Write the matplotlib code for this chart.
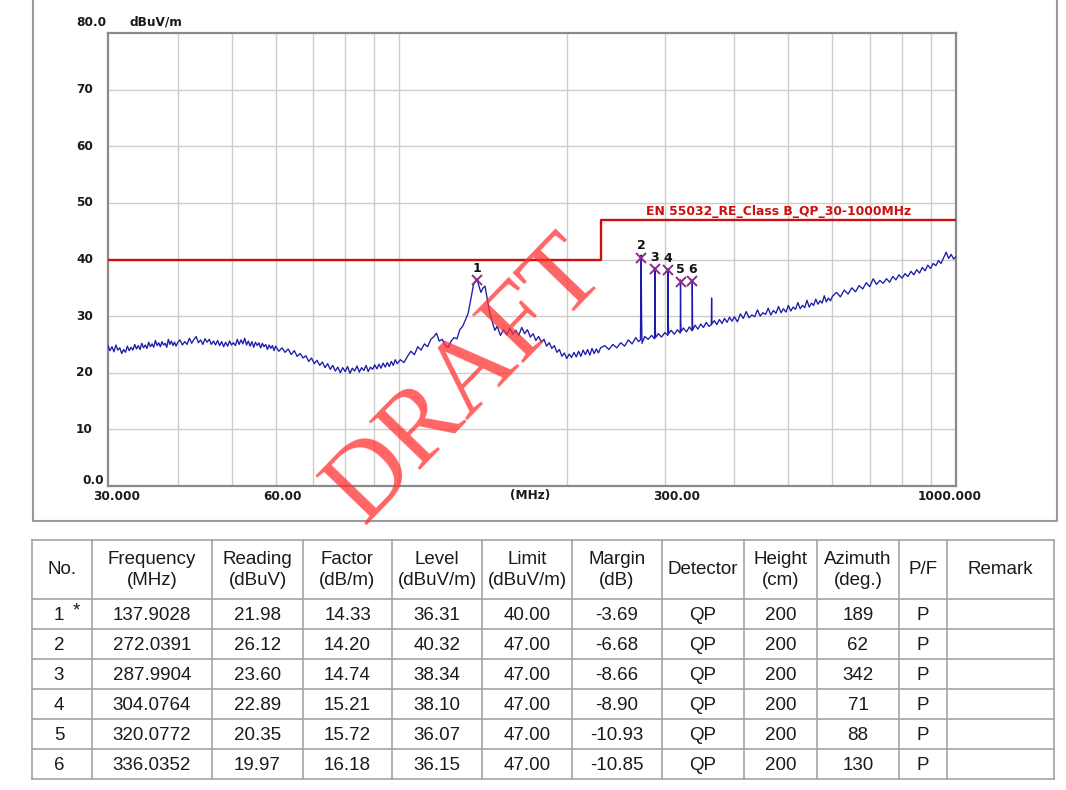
import matplotlib
matplotlib.use("Agg")
import matplotlib.pyplot as plt
from matplotlib.ticker import NullLocator

# ---------------- data ----------------
seg_a_freq = [30.0, 30.25, 30.5, 30.75, 31.0, 31.25, 31.5, 31.75, 32.0, 32.25,
              32.5, 32.75, 33.0, 33.25, 33.5, 33.75, 34.0, 34.25, 34.5, 34.75,
              35.0, 35.25, 35.5, 35.75, 36.0, 36.25, 36.5, 36.75, 37.0, 37.25,
              37.5, 37.75, 38.0, 38.25, 38.5, 38.75, 39.0, 39.25, 39.5, 39.75, 40.0]
seg_a_level = [24.8, 23.9, 24.6, 23.7, 24.9, 24.0, 24.4, 23.4, 24.1, 23.6,
               24.7, 23.9, 24.5, 24.0, 25.0, 24.2, 24.8, 24.1, 25.2, 24.4,
               24.9, 24.3, 25.4, 24.6, 25.1, 24.5, 25.7, 24.8, 25.3, 24.6,
               25.5, 24.9, 25.2, 24.5, 25.9, 25.0, 25.6, 24.8, 25.4, 24.7, 25.3]
seg_b_freq = [40.4, 40.8, 41.2, 41.6, 42.0, 42.4, 42.8, 43.2, 43.6, 44.0,
              44.4, 44.8, 45.2, 45.6, 46.0, 46.4, 46.8, 47.2, 47.6, 48.0,
              48.4, 48.8, 49.2, 49.6, 50.0, 50.4, 50.8, 51.2, 51.6, 52.0,
              52.4, 52.8, 53.2, 53.6, 54.0, 54.4, 54.8, 55.2, 55.6, 56.0,
              56.4, 56.8, 57.2, 57.6, 58.0, 58.4, 58.8, 59.2, 59.6]
seg_b_level = [25.8, 24.9, 25.5, 25.0, 26.1, 25.2, 25.9, 26.4, 25.3, 25.8,
               25.0, 26.0, 25.4, 25.9, 25.0, 25.6, 24.9, 25.7, 24.8, 25.5,
               24.6, 25.4, 24.7, 25.6, 24.9, 25.3, 24.8, 25.9, 25.0, 25.8,
               25.1, 26.1, 24.9, 25.6, 24.7, 25.5, 24.5, 25.4, 24.8, 25.3,
               24.4, 25.2, 24.6, 25.0, 24.1, 24.9, 24.3, 24.8, 23.9]
seg_c_freq = [60.0, 60.8, 61.6, 62.4, 63.2, 64.0, 64.8, 65.6, 66.4, 67.2,
              68.0, 68.8, 69.6, 70.4, 71.2, 72.0, 72.8, 73.6, 74.4, 75.2,
              76.0, 76.8, 77.6, 78.4, 79.2, 80.0, 80.8, 81.6, 82.4, 83.2,
              84.0, 84.8, 85.6, 86.4, 87.2, 88.0, 88.8, 89.6, 90.4, 91.2,
              92.0, 92.8, 93.6, 94.4, 95.2, 96.0, 96.8, 97.6, 98.4, 99.2]
seg_c_level = [24.7, 23.8, 24.4, 23.6, 24.2, 23.2, 23.9, 22.9, 23.4, 22.6,
               23.0, 22.0, 22.6, 21.6, 22.2, 21.3, 21.9, 20.9, 21.6, 20.6,
               21.3, 20.3, 21.0, 20.0, 20.9, 20.2, 21.1, 19.9, 20.8, 20.3,
               21.2, 20.1, 20.9, 20.4, 21.3, 20.2, 21.0, 20.6, 21.4, 20.7,
               21.5, 20.8, 21.7, 21.0, 21.8, 21.1, 22.0, 21.3, 22.3, 21.6]
seg_d_freq = [100.5, 102.0, 103.5, 105.0, 106.5, 108.0, 109.5, 111.0, 112.5, 114.0, 115.5, 116.7, 118.0,
              119.5, 121.0, 122.5, 124.0, 125.5, 127.0, 128.5, 130.0, 131.5, 133.0, 134.5, 136.0, 137.9,
              139.0, 140.2, 141.5, 142.6, 144.0, 145.5, 147.0, 148.5, 150.0]
seg_d_level = [22.3, 21.8, 22.9, 23.8, 23.2, 24.6, 24.0, 25.1, 24.6, 25.9, 26.4, 27.0, 25.6,
               25.9, 24.8, 24.5, 25.6, 26.2, 26.0, 27.6, 28.2, 29.3, 30.5, 33.0, 35.6, 36.6,
               35.4, 34.2, 35.0, 35.3, 33.0, 30.5, 29.0, 27.5, 28.2]
seg_e_freq = [152, 154, 156, 158, 160, 162, 164, 166, 168, 170,
              172, 174, 176, 178, 180, 182, 184, 186, 188, 190,
              192, 194, 196, 198, 200, 202, 204, 206, 208, 210,
              212, 214, 216, 218, 220, 222, 224, 226, 228, 230]
seg_e_level = [26.6, 27.6, 26.7, 27.9, 26.8, 27.5, 26.6, 28.0, 26.9, 27.6,
               26.3, 26.9, 25.7, 26.4, 25.4, 25.9, 24.7, 25.3, 24.3, 24.8,
               23.6, 24.1, 22.9, 23.5, 22.5, 23.3, 22.7, 23.6, 22.8, 23.8,
               22.9, 24.0, 23.2, 24.1, 23.1, 24.3, 23.4, 24.2, 23.5, 24.4]
seg_f_freq = [234, 238, 242, 246, 250, 254, 258, 262, 266, 269,
              271.2, 271.6, 272.04, 272.5, 273, 276, 280, 284,
              287.5, 287.8, 288.0, 288.3, 288.7, 292, 296, 300,
              303.7, 303.9, 304.08, 304.4, 304.8, 308, 312, 316,
              319.7, 319.9, 320.08, 320.4, 320.8, 324, 328, 332,
              335.7, 335.9, 336.04, 336.4, 336.8, 340, 344, 348, 352, 356, 360,
              363.6, 364, 364.4, 368, 372, 376, 380, 384, 388, 392, 396, 400]
seg_f_level = [24.8, 24.1, 25.0, 24.4, 25.3, 24.7, 25.8, 25.1, 26.2, 25.5,
               25.8, 33.0, 40.8, 30.0, 25.2, 26.4, 25.9, 26.6,
               26.0, 31.5, 38.6, 29.5, 26.2, 26.9, 26.3, 27.1,
               26.6, 32.5, 38.4, 28.5, 26.9, 27.5, 26.8, 27.6,
               27.0, 30.0, 36.4, 29.5, 27.3, 27.9, 27.2, 28.1,
               27.4, 30.5, 36.4, 29.0, 27.6, 28.4, 27.7, 28.6, 28.0, 28.9, 28.2,
               28.5, 33.2, 28.6, 29.2, 28.5, 29.4, 28.7, 29.6, 28.9, 29.8, 29.1, 29.9]
seg_g_freq = [405, 410, 415, 420, 425, 430, 435, 440, 445, 450,
              455, 460, 465, 470, 475, 480, 485, 490, 495, 500,
              505, 510, 515, 520, 525, 530, 535, 540, 545, 550,
              555, 560, 565, 570, 575, 580, 585, 590, 595, 600]
seg_g_level = [29.0, 30.4, 29.6, 30.8, 29.7, 30.2, 29.9, 31.1, 30.0, 30.6,
               30.3, 31.4, 30.2, 31.0, 30.5, 31.7, 30.6, 31.3, 30.7, 31.9,
               30.9, 31.6, 31.2, 32.4, 31.3, 31.9, 31.5, 32.8, 31.6, 32.3,
               31.9, 33.0, 32.1, 32.7, 32.3, 33.6, 32.5, 33.2, 32.7, 33.5]
seg_h_freq = [610, 620, 630, 640, 650, 660, 670, 680, 690, 700,
              710, 720, 730, 740, 750, 760, 770, 780, 790, 800,
              810, 820, 830, 840, 850, 860, 870, 880, 890, 900,
              910, 920, 930, 940, 950, 960, 970, 980, 990, 1000]
seg_h_level = [34.2, 33.4, 34.6, 33.9, 35.0, 34.3, 35.4, 34.8, 35.9, 35.2,
               36.6, 35.6, 36.3, 35.8, 36.6, 36.0, 37.0, 36.4, 37.3, 36.7,
               37.5, 37.0, 37.9, 37.3, 38.2, 37.6, 38.6, 38.0, 39.0, 38.4,
               39.3, 38.9, 39.8, 39.3, 40.3, 41.3, 40.2, 40.9, 40.1, 40.5]

trace_freq = (seg_a_freq + seg_b_freq + seg_c_freq + seg_d_freq + seg_e_freq
              + seg_f_freq + seg_g_freq + seg_h_freq)
trace_level = (seg_a_level + seg_b_level + seg_c_level + seg_d_level + seg_e_level
               + seg_f_level + seg_g_level + seg_h_level)

limit_freq = [30, 230, 230, 1000]
limit_level = [40, 40, 47, 47]
limit_name = "EN 55032_RE_Class B_QP_30-1000MHz"

y_tick_values = [80, 70, 60, 50, 40, 30, 20, 10, 0]
y_tick_labels = ["80.0", "70", "60", "50", "40", "30", "20", "10", "0.0"]
x_tick_labels = ["30.000", "60.00", "(MHz)", "300.00", "1000.000"]

nos = ["1", "2", "3", "4", "5", "6"]
freqs = ["137.9028", "272.0391", "287.9904", "304.0764", "320.0772", "336.0352"]
readings = ["21.98", "26.12", "23.60", "22.89", "20.35", "19.97"]
factors = ["14.33", "14.20", "14.74", "15.21", "15.72", "16.18"]
levels = ["36.31", "40.32", "38.34", "38.10", "36.07", "36.15"]
limits = ["40.00", "47.00", "47.00", "47.00", "47.00", "47.00"]
margins = ["-3.69", "-6.68", "-8.66", "-8.90", "-10.93", "-10.85"]
detectors = ["QP"] * 6
heights = ["200"] * 6
azimuths = ["189", "62", "342", "71", "88", "130"]
pfs = ["P"] * 6
remarks = [""] * 6
headers = ["No.", "Frequency\n(MHz)", "Reading\n(dBuV)", "Factor\n(dB/m)", "Level\n(dBuV/m)",
           "Limit\n(dBuV/m)", "Margin\n(dB)", "Detector", "Height\n(cm)", "Azimuth\n(deg.)", "P/F", "Remark"]

# ---------------- figure ----------------
W, H = 1066, 790
fig = plt.figure(figsize=(W / 100, H / 100), dpi=100)
fig.patch.set_facecolor("white")

ov = fig.add_axes([0, 0, 1, 1])
ov.set_xlim(0, W)
ov.set_ylim(H, 0)
ov.axis("off")

ax = fig.add_axes([108 / W, (H - 486) / H, 848 / W, 453 / H])
ax.set_facecolor("none")
ax.set_xscale("log")
ax.set_xlim(30, 1000)
ax.set_ylim(0, 80)
ax.xaxis.set_major_locator(NullLocator())
ax.xaxis.set_minor_locator(NullLocator())
ax.yaxis.set_major_locator(NullLocator())
for s in ax.spines.values():
    s.set_color("#8a8a8a")
    s.set_linewidth(1.6)

grid_c = "#cdcdcd"
for gx in [40, 50, 60, 70, 80, 90, 100, 200, 300, 400, 500, 600, 700, 800, 900]:
    ax.axvline(gx, color=grid_c, lw=1.0, zorder=1)
for gy in [10, 20, 30, 40, 50, 60, 70]:
    ax.axhline(gy, color=grid_c, lw=1.0, zorder=1)

ax.plot(trace_freq, trace_level, color="#1c1ca8", lw=0.95, zorder=3)
ax.plot(limit_freq, limit_level, color="#cc1010", lw=1.7, zorder=4)

mk_f = [float(v) for v in freqs]
mk_l = [float(v) for v in levels]
ax.plot(mk_f, mk_l, linestyle="none", marker="x", color="#8a2a8a", ms=7, mew=1.4, zorder=5)
for n, f, l in zip(nos, mk_f, mk_l):
    ax.annotate(n, (f, l), xytext=(0, 8.5), textcoords="offset points", ha="center", va="center",
                fontsize=9, fontweight="bold", color="#111111", family="DejaVu Sans", zorder=6)

lab_kw = dict(fontsize=8.7, fontweight="bold", color="#1a1a1a", family="DejaVu Sans")
ax.text(646, 211, limit_name, ha="left", va="center", fontsize=8.9, fontweight="bold",
        color="#cc1010", family="DejaVu Sans", transform=ov.transData, zorder=6, clip_on=False)

# y labels
for v, t in zip(y_tick_values, y_tick_labels):
    ypix = 486 - v * 453 / 80
    if t == "80.0":
        ov.text(76, 23, t, ha="left", va="center", **lab_kw)
    elif t == "0.0":
        ov.text(104, 481, t, ha="right", va="center", **lab_kw)
    else:
        ov.text(76, ypix, t, ha="left", va="center", **lab_kw)
ov.text(130, 22, "dBuV/m", ha="left", va="center", **lab_kw)
# x labels
for xp, t in zip([117, 283, 530, 677, 950], x_tick_labels):
    ov.text(xp, 496, t, ha="center", va="center", **lab_kw)

# outer chart frame
ov.plot([33, 33, 1057, 1057], [-5, 521, 521, -5], color="#9a9a9a", lw=1.5)

# ---------------- table ----------------
col_edges = [32, 92, 212, 303, 392, 482, 572, 662, 744, 817, 899, 947, 1054]
row_edges = [540, 599, 629, 659, 689, 719, 749, 779]
tc = "#a3a3a3"
for x in col_edges:
    ov.plot([x, x], [row_edges[0], row_edges[-1]], color=tc, lw=1.2)
for y in row_edges:
    ov.plot([col_edges[0], col_edges[-1]], [y, y], color=tc, lw=1.2)

tkw = dict(fontsize=13.5, family="Liberation Sans", color="#1a1a1a")
centers = [(col_edges[i] + col_edges[i + 1]) / 2 for i in range(len(col_edges) - 1)]
for cx, h in zip(centers, headers):
    ov.text(cx, 570, h, ha="center", va="center", linespacing=1.3, **tkw)

cols = [nos, freqs, readings, factors, levels, limits, margins, detectors, heights, azimuths, pfs, remarks]
for r in range(6):
    cy = (row_edges[r + 1] + row_edges[r + 2]) / 2
    for ci, col in enumerate(cols):
        cx = centers[ci]
        txt = col[r]
        if ci == 0:
            cx = 59
        ov.text(cx, cy + 1, txt, ha="center", va="center", **tkw)
ov.text(76, 611, "*", ha="center", va="center", **tkw)

# watermark
fig.text(467 / W, 1 - 380 / H, "DRAFT", ha="center", va="center", rotation=46,
         fontsize=77, family="Liberation Serif", color="#ff3030", alpha=0.75, zorder=10)

fig.savefig("out.png", dpi=100, facecolor="white")
